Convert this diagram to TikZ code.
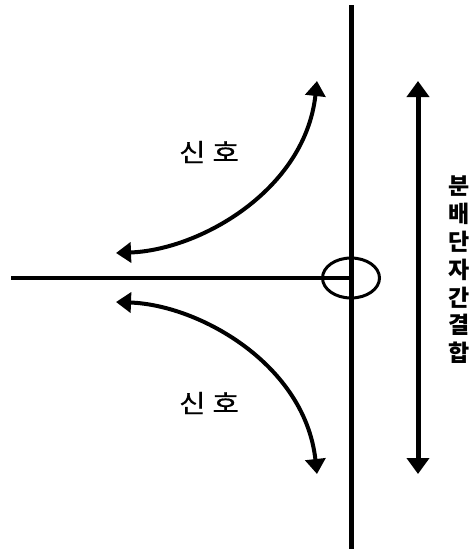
\documentclass[tikz,border=0pt]{standalone}
\usepackage{fontspec}
\newfontfamily\kr{Noto Sans CJK KR}
\newfontfamily\krm[FakeBold=0.6]{Noto Sans CJK KR}
\usetikzlibrary{arrows.meta,shapes.geometric}
\tikzset{
  bus/.style={line width=5pt},
  feeder/.style={line width=3.5pt},
  sig/.style={line width=4pt, {Triangle[length=15pt,width=20pt]}-{Triangle[length=15pt,width=20pt]}},
  span/.style={line width=5pt, {Triangle[length=16pt,width=22pt]}-{Triangle[length=16pt,width=22pt]}},
  lbl/.style={font=\krm\fontsize{25}{28}\selectfont, inner sep=0pt},
  vlbl/.style={font=\kr\bfseries\fontsize{23}{27.8}\selectfont, align=center, inner sep=0pt}
}
\begin{document}
\begin{tikzpicture}[x=1pt,y=-1pt]
\useasboundingbox (0,0) rectangle (475,552);
% main bus
\coordinate (btop) at (351,5);
\coordinate (bbot) at (351,549);
\draw[bus] (btop) -- (bbot);
% junction
\coordinate (j) at (351,278);
\coordinate (fl) at (11,278);
\draw[feeder] (fl) -- (j);
\node[draw, line width=3pt, ellipse, minimum width=57pt, minimum height=40pt, inner sep=0pt] (jc) at (j) {};
% signal arrows
\coordinate (u1) at (116,253);
\coordinate (u2) at (317,81);
\coordinate (l1) at (116,302);
\coordinate (l2) at (317,474);
\draw[sig] (u1) .. controls (200,250) and (305,190) .. (u2);
\draw[sig] (l1) .. controls (200,305) and (305,365) .. (l2);
\node[lbl] (s1) at (209,152) {\scalebox{1.15}[1]{신\hspace{6pt}호}};
\node[lbl] (s2) at (209,403) {\scalebox{1.15}[1]{신\hspace{6pt}호}};
% span arrow
\coordinate (a1) at (418,81);
\coordinate (a2) at (418,474);
\draw[span] (a1) -- (a2);
\node[vlbl] (v) at (459,270) {분\\배\\단\\자\\간\\결\\합};
\end{tikzpicture}
\end{document}
